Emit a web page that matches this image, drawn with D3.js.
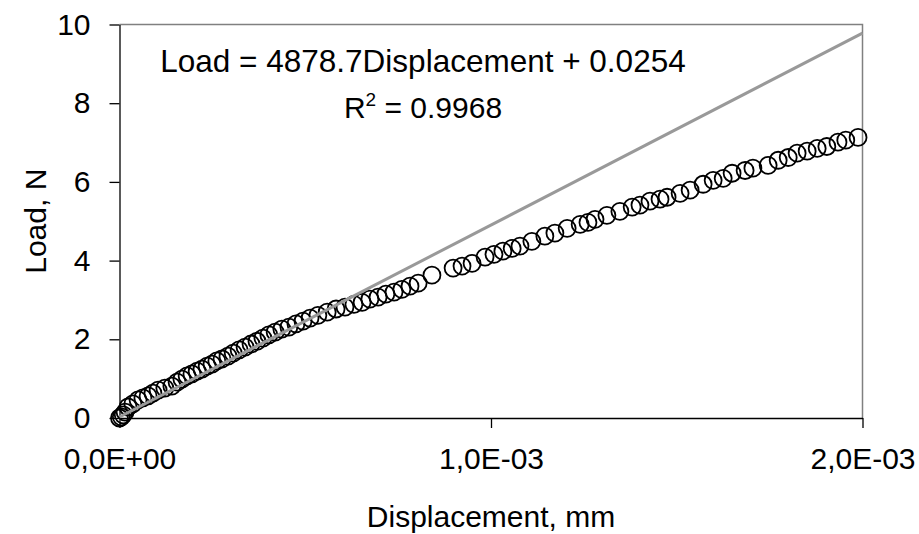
<!DOCTYPE html>
<html>
<head>
<meta charset="utf-8">
<script src="https://cdn.jsdelivr.net/npm/d3@7"></script>
<style>
  body { margin: 0; background: #fff; }
  text { font-family: "Liberation Sans", Arial, sans-serif; fill: #000; }
</style>
</head>
<body>
<div id="chart"></div>
<script>
const width = 919, height = 534
const margin = { top: 24.5, right: 56.5, bottom: 116, left: 119.5 }

// displacement in units of 1e-3 mm, load in N
const displacement = [
  0, 0.005, 0.01, 0.015, 0.023, 0.036, 0.05, 0.063, 0.077, 0.09, 0.104, 0.122, 0.141, 0.155,
  0.168, 0.182, 0.195, 0.209, 0.222, 0.236, 0.249, 0.262, 0.276, 0.292, 0.306, 0.322, 0.338,
  0.354, 0.37, 0.386, 0.402, 0.419, 0.437, 0.456, 0.475, 0.494, 0.513, 0.534, 0.559, 0.583,
  0.607, 0.631, 0.653, 0.674, 0.696, 0.717, 0.739, 0.76, 0.782, 0.804, 0.841, 0.898, 0.922,
  0.949, 0.984, 1.008, 1.032, 1.057, 1.078, 1.11, 1.145, 1.172, 1.205, 1.24, 1.261, 1.28,
  1.312, 1.347, 1.38, 1.401, 1.428, 1.455, 1.474, 1.509, 1.536, 1.571, 1.598, 1.625, 1.649,
  1.684, 1.705, 1.746, 1.773, 1.8, 1.824, 1.851, 1.878, 1.904, 1.934, 1.955, 1.988
]
const load = [
  0, 0.03, 0.08, 0.15, 0.28, 0.36, 0.46, 0.51, 0.56, 0.63, 0.71, 0.76, 0.81, 0.91,
  0.99, 1.07, 1.12, 1.19, 1.24, 1.32, 1.37, 1.45, 1.5, 1.57, 1.65, 1.73, 1.8,
  1.88, 1.95, 2.03, 2.11, 2.18, 2.26, 2.31, 2.39, 2.46, 2.54, 2.61, 2.69, 2.77,
  2.82, 2.89, 2.94, 3.02, 3.07, 3.15, 3.2, 3.27, 3.35, 3.43, 3.63, 3.81, 3.86,
  3.93, 4.09, 4.16, 4.24, 4.31, 4.37, 4.49, 4.62, 4.7, 4.82, 4.92, 4.97, 5.05,
  5.15, 5.25, 5.36, 5.41, 5.51, 5.56, 5.61, 5.71, 5.79, 5.94, 6.04, 6.09, 6.22,
  6.29, 6.35, 6.42, 6.55, 6.62, 6.73, 6.78, 6.85, 6.9, 7.01, 7.06, 7.13
]
const xTicks = [0, 1e-3, 2e-3]
const xTickLabels = ['0,0E+00', '1,0E-03', '2,0E-03']
const yTicks = [0, 2, 4, 6, 8, 10]
const slope = 4878.7, intercept = 0.0254

const data = displacement.map((d, i) => ({ x: d * 1e-3, y: load[i] }))

const svg = d3.select('#chart').append('svg')
    .attr('width', width)
    .attr('height', height)

const x = d3.scaleLinear().domain([0, 2e-3]).range([margin.left, width - margin.right])
const y = d3.scaleLinear().domain([0, 10]).range([height - margin.bottom, margin.top])

// top and right frame
svg.append('path')
    .attr('d', `M${x(0)},${y(10)}H${x(2e-3)}V${y(0)}`)
    .attr('fill', 'none')
    .attr('stroke', '#808080')
    .attr('stroke-width', 1.5)

svg.append('g')
    .attr('transform', `translate(0,${y(0)})`)
    .call(d3.axisBottom(x).tickValues(xTicks).tickFormat((d, i) => xTickLabels[i]).tickSize(10).tickSizeOuter(0).tickPadding(20))
svg.append('g')
    .attr('transform', `translate(${x(0)},0)`)
    .call(d3.axisLeft(y).tickValues(yTicks).tickSize(10).tickSizeOuter(0).tickPadding(19))

svg.selectAll('.domain, .tick line').attr('stroke', '#000').attr('stroke-width', 1.3)
svg.selectAll('.tick text').attr('font-size', 30).attr('font-family', '"Liberation Sans", Arial, sans-serif')

svg.append('g')
    .selectAll('circle')
    .data(data)
    .join('circle')
    .attr('cx', d => x(d.x))
    .attr('cy', d => y(d.y))
    .attr('r', 8.5)
    .attr('fill', 'none')
    .attr('stroke', '#000')
    .attr('stroke-width', 1.8)

// trendline drawn over the markers
svg.append('line')
    .attr('x1', x(0)).attr('y1', y(intercept))
    .attr('x2', x(2e-3)).attr('y2', y(slope * 2e-3 + intercept))
    .attr('stroke', '#999')
    .attr('stroke-width', 3)

svg.append('text')
    .attr('x', 423).attr('y', 72)
    .attr('text-anchor', 'middle')
    .attr('font-size', 31.5)
    .text(`Load = ${slope}Displacement + ${intercept}`)

const r2 = svg.append('text')
    .attr('x', 423).attr('y', 118)
    .attr('text-anchor', 'middle')
    .attr('font-size', 30)
r2.append('tspan').text('R')
r2.append('tspan').attr('font-size', 19).attr('dy', -12).text('2')
r2.append('tspan').attr('dy', 12).text(' = 0.9968')

svg.append('text')
    .attr('x', x(1e-3)).attr('y', 527)
    .attr('text-anchor', 'middle')
    .attr('font-size', 30)
    .text('Displacement, mm')

svg.append('text')
    .attr('transform', `translate(46,${y(5)}) rotate(-90)`)
    .attr('text-anchor', 'middle')
    .attr('font-size', 30)
    .text('Load, N')
</script>
</body>
</html>
